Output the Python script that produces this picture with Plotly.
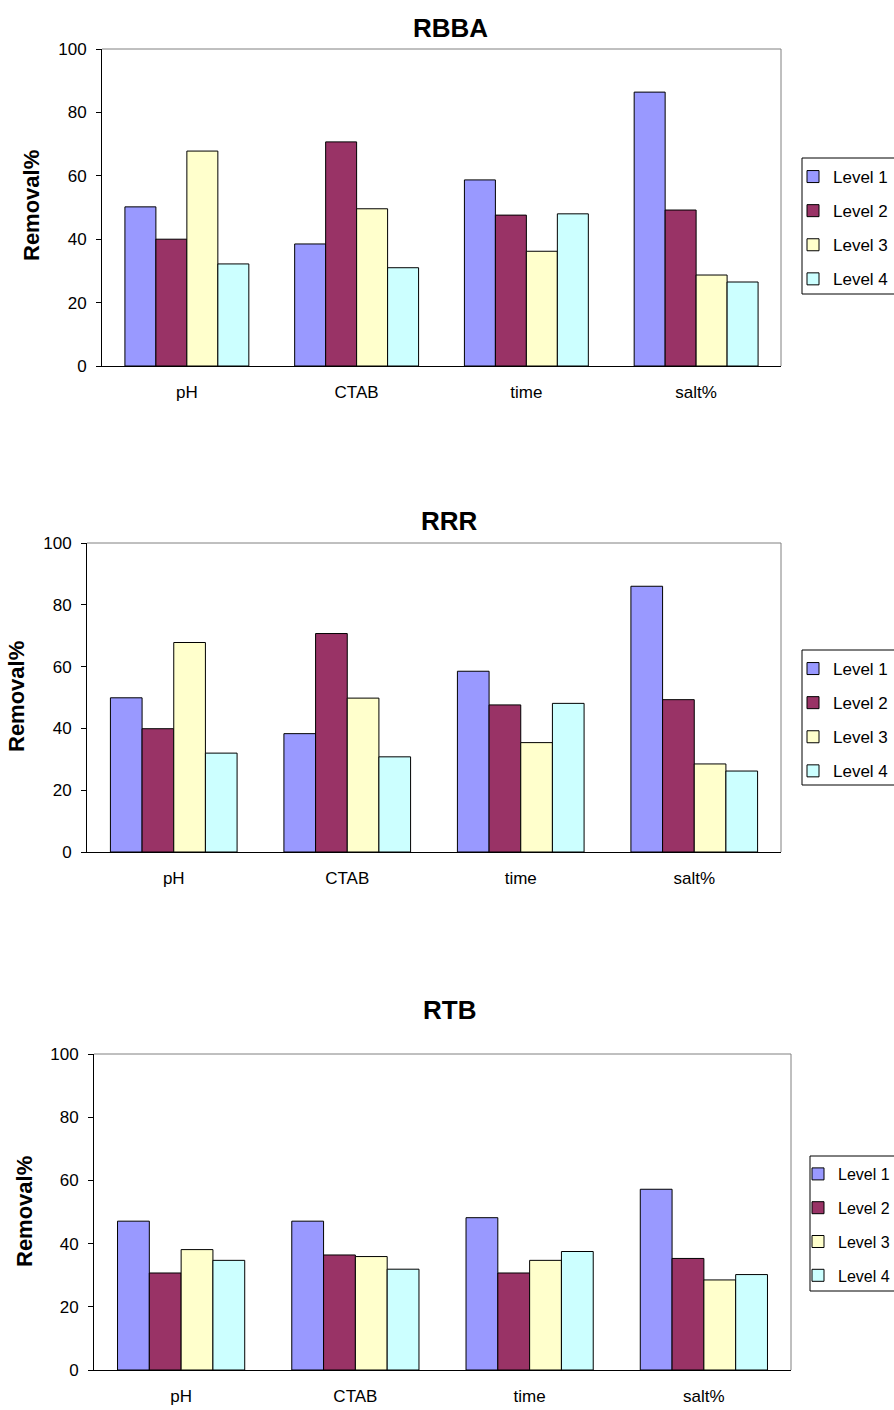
import plotly.graph_objects as go

categories = ["pH", "CTAB", "time", "salt%"]
levels = ["Level 1", "Level 2", "Level 3", "Level 4"]
colors = ["#9999FF", "#993366", "#FFFFCC", "#CCFFFF"]

rbba_l1 = [50.2, 38.5, 58.7, 86.4]
rbba_l2 = [40.0, 70.7, 47.6, 49.2]
rbba_l3 = [67.8, 49.6, 36.2, 28.7]
rbba_l4 = [32.2, 31.0, 48.0, 26.5]

rrr_l1 = [49.9, 38.3, 58.5, 86.0]
rrr_l2 = [39.9, 70.7, 47.6, 49.3]
rrr_l3 = [67.8, 49.8, 35.4, 28.5]
rrr_l4 = [32.0, 30.8, 48.1, 26.2]

rtb_l1 = [47.1, 47.1, 48.2, 57.2]
rtb_l2 = [30.7, 36.4, 30.7, 35.3]
rtb_l3 = [38.1, 35.9, 34.7, 28.5]
rtb_l4 = [34.7, 31.9, 37.5, 30.2]

panels = [
    ("RBBA", [rbba_l1, rbba_l2, rbba_l3, rbba_l4]),
    ("RRR", [rrr_l1, rrr_l2, rrr_l3, rrr_l4]),
    ("RTB", [rtb_l1, rtb_l2, rtb_l3, rtb_l4]),
]

W, H = 894, 1410
FONT = "Liberation Sans, Arial, sans-serif"

# pixel layout: (left, right, top, bottom) of plot area
boxes = [(102, 781, 49, 366), (87, 781, 543, 852), (94, 791, 1054, 1370)]
# legend frame (left, top, bottom), symbol centre x, font size
legend_frames = [(802, 158, 294), (802, 650, 785), (810, 1156, 1291)]
legend_sym_x = [813, 813, 818]
legend_font = [17, 17, 16]
title_pos = [(451, 28), (449, 521), (449, 1010)]
ytitle_pos = [(32, 206), (16, 697), (24, 1212)]

fig = go.Figure()
layout = dict(
    width=W, height=H,
    margin=dict(l=0, r=0, t=0, b=0, autoexpand=False),
    paper_bgcolor="white", plot_bgcolor="white",
    barmode="group", bargap=0.27, bargroupgap=0,
    font=dict(family=FONT, size=17, color="black"),
    showlegend=True,
)
annotations = []
shapes = []

for i, (name, series) in enumerate(panels):
    sfx = "" if i == 0 else str(i + 1)
    leg = "legend" if i == 0 else f"legend{i + 1}"
    for j, vals in enumerate(series):
        fig.add_trace(go.Bar(
            x=categories, y=vals, name=levels[j],
            marker=dict(color=colors[j], line=dict(color="black", width=1)),
            xaxis="x" + sfx, yaxis="y" + sfx, legend=leg,
            legendgroup=f"p{i}l{j}",
        ))
    l, r, t, b = boxes[i]
    layout["xaxis" + sfx] = dict(
        domain=[l / W, r / W], anchor="y" + sfx, type="category",
        range=[-0.5, 3.5], showline=True, linecolor="black", linewidth=1,
        showgrid=False, ticks="", ticklabelstandoff=11,
        tickfont=dict(family=FONT, size=17),
    )
    layout["yaxis" + sfx] = dict(
        domain=[1 - b / H, 1 - t / H], anchor="x" + sfx,
        range=[0, 100], tickvals=[0, 20, 40, 60, 80, 100],
        showline=True, linecolor="black", linewidth=1,
        showgrid=False, zeroline=False, ticks="outside", ticklen=5,
        tickcolor="black", ticklabelstandoff=6,
        tickfont=dict(family=FONT, size=17),
    )
    fl, ft, fb = legend_frames[i]
    # legend frame (partly beyond the right edge, as in the reference)
    shapes.append(dict(type="rect", xref="paper", yref="paper",
                       x0=fl / W, x1=(W + 20) / W, y0=1 - fb / H, y1=1 - ft / H,
                       line=dict(color="black", width=1), fillcolor="white",
                       layer="below"))
    layout[leg] = dict(
        x=(legend_sym_x[i] - 20) / W, y=1 - (ft + 1) / H, xanchor="left", yanchor="top",
        xref="paper", yref="paper",
        borderwidth=0, bgcolor="rgba(0,0,0,0)",
        font=dict(family=FONT, size=legend_font[i]),
        tracegroupgap=9 if legend_font[i] == 17 else 10,
        itemwidth=30,
    )
    tx, ty = title_pos[i]
    annotations.append(dict(
        text=f"<b>{name}</b>", x=tx / W, y=1 - ty / H, xref="paper", yref="paper",
        showarrow=False, xanchor="center", yanchor="middle",
        font=dict(family=FONT, size=26),
    ))
    yx, yy = ytitle_pos[i]
    annotations.append(dict(
        text="<b>Removal%</b>", x=yx / W, y=1 - yy / H, xref="paper", yref="paper",
        showarrow=False, xanchor="center", yanchor="middle", textangle=-90,
        font=dict(family=FONT, size=22),
    ))
    # gray top and right borders of plot area
    shapes.append(dict(type="line", xref="x" + sfx + " domain", yref="y" + sfx + " domain",
                       x0=0, x1=1, y0=1, y1=1, line=dict(color="#808080", width=1)))
    shapes.append(dict(type="line", xref="x" + sfx + " domain", yref="y" + sfx + " domain",
                       x0=1, x1=1, y0=0, y1=1, line=dict(color="#808080", width=1)))

layout["annotations"] = annotations
layout["shapes"] = shapes
fig.update_layout(**layout)
fig.write_html(
    "out.html",
    config={"displayModeBar": False},
    post_script="document.body.style.margin='0';document.body.style.overflow='hidden';",
)
